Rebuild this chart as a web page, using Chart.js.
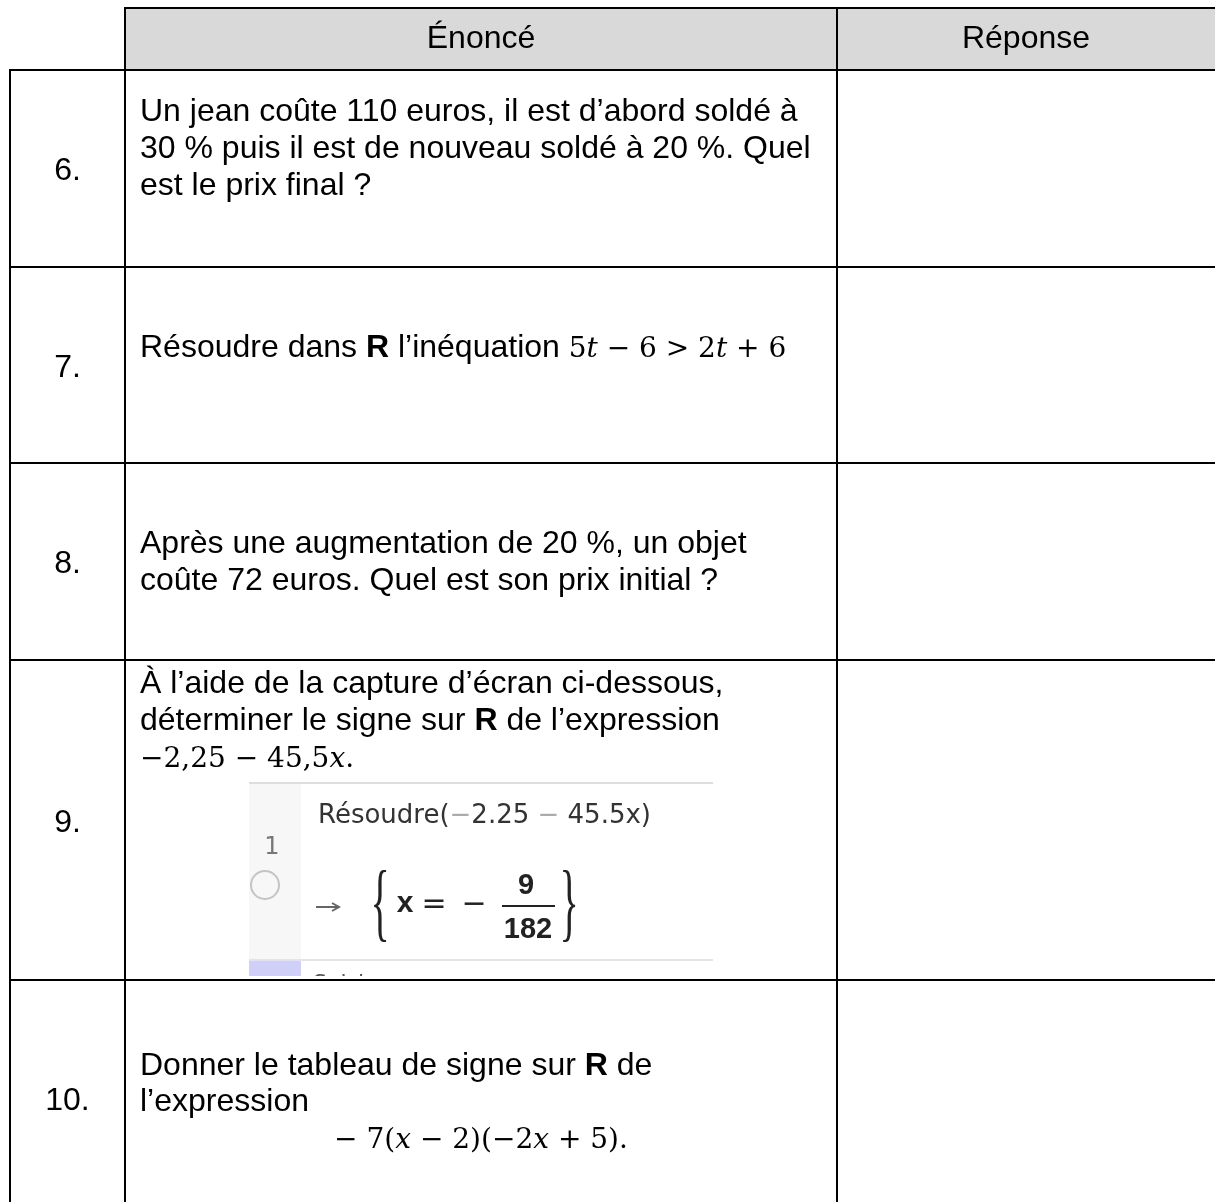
<!DOCTYPE html>
<html>
<head>
<meta charset="utf-8">
<script src="https://cdn.jsdelivr.net/npm/chart.js@4.4.1/dist/chart.umd.min.js"></script>
<style>
html,body{margin:0;padding:0;background:#fff;}
#wrap{width:1215px;height:1202px;position:relative;}
</style>
</head>
<body>
<div id="wrap"><canvas id="c"></canvas></div>
<script>
// ---------- DATA (table content) ----------
const headers = ["Énoncé", "Réponse"];
const questionNumbers = ["6.", "7.", "8.", "9.", "10."];
// each statement = list of lines; each line = list of [style, text] runs
// styles: t = text, b = bold text, m = math upright, mi = math italic
const statement6 = [
  [["t", "Un jean coûte 110 euros, il est d’abord soldé à"]],
  [["t", "30 % puis il est de nouveau soldé à 20 %. Quel"]],
  [["t", "est le prix final ?"]]
];
const statement7 = [
  [["t", "Résoudre dans "], ["b", "R"], ["t", " l’inéquation "], ["m", "5"], ["mi", "t"], ["m", " − 6 > 2"], ["mi", "t"], ["m", " + 6"]]
];
const statement8 = [
  [["t", "Après une augmentation de 20 %, un objet"]],
  [["t", "coûte 72 euros. Quel est son prix initial ?"]]
];
const statement9 = [
  [["t", "À l’aide de la capture d’écran ci-dessous,"]],
  [["t", "déterminer le signe sur "], ["b", "R"], ["t", " de l’expression"]],
  [["m", "−2,25 − 45,5"], ["mi", "x"], ["m", "."]]
];
const statement10 = [
  [["t", "Donner le tableau de signe sur "], ["b", "R"], ["t", " de"]],
  [["t", "l’expression"]],
  [["m", "− 7("], ["mi", "x"], ["m", " − 2)(−2"], ["mi", "x"], ["m", " + 5)."]]
];
const statements = [statement6, statement7, statement8, statement9, statement10];
// screenshot (GeoGebra) content in question 9
const geoCommand = [["Résoudre(", "#333"], ["−", "#aaa"], ["2.25 ", "#333"], ["−", "#aaa"], [" 45.5x)", "#333"]];
const geoLineNumber = "1";
const geoNumerator = "9";
const geoDenominator = "182";

// ---------- LAYOUT (positions / styles) ----------
const X_MAX = 1215, Y_MAX = 1202;
const COL_EDGES = [10, 125, 837, 1215];
const ROW_EDGES = [8, 70, 267, 463, 660, 980];
const HEADER_BASELINE = 48;
const NUM_BASELINES = [180, 377, 573, 832, 1110];
const LINE_BASELINES = [[121, 158, 195], [357], [553, 590], [693, 730, 767], [1075, 1111, 1148]];
const CENTERED_LINES = {"4-2": true};
const TEXT_LEFT = 140;
const FS = 32, MS = 28;
const GEO = {left: 249, right: 713, top: 783, gutter: 301, sep: 960, bottom: 976};

function fontFor(style) {
  switch (style) {
    case "b": return `bold ${FS}px "Liberation Sans", Arial, sans-serif`;
    case "m": return `${MS}px "DejaVu Serif", serif`;
    case "mi": return `italic ${MS}px "DejaVu Serif", serif`;
    default: return `${FS}px "Liberation Sans", Arial, sans-serif`;
  }
}
function runsWidth(ctx, runs) {
  let w = 0;
  for (const [s, t] of runs) { ctx.font = fontFor(s); w += ctx.measureText(t).width; }
  return w;
}
function drawRuns(ctx, runs, x, y) {
  for (const [s, t] of runs) {
    ctx.font = fontFor(s);
    ctx.fillText(t, x, y);
    x += ctx.measureText(t).width;
  }
}

// table border line datasets built from the edges
const borderSets = [];
ROW_EDGES.forEach((y, i) => {
  const sx = i === 0 ? COL_EDGES[1] - 1 : COL_EDGES[0] - 1;
  borderSets.push({data: [{x: sx, y: y}, {x: X_MAX, y: y}]});
});
COL_EDGES.slice(0, 3).forEach((x, j) => {
  const sy = j === 0 ? ROW_EDGES[1] - 1 : ROW_EDGES[0] - 1;
  borderSets.push({data: [{x: x, y: sy}, {x: x, y: Y_MAX}]});
});
borderSets.forEach(d => Object.assign(d, {
  showLine: true, borderColor: "#000", borderWidth: 2, pointRadius: 0, fill: false, tension: 0
}));

const tablePlugin = {
  id: "tablePlugin",
  beforeDatasetsDraw(chart) {
    const {ctx} = chart, sx = chart.scales.x, sy = chart.scales.y;
    ctx.save();
    ctx.fillStyle = "#d9d9d9";
    const x0 = sx.getPixelForValue(COL_EDGES[1]), x1 = sx.getPixelForValue(X_MAX);
    const y0 = sy.getPixelForValue(ROW_EDGES[0]), y1 = sy.getPixelForValue(ROW_EDGES[1]);
    ctx.fillRect(x0, y0, x1 - x0, y1 - y0);
    ctx.restore();
  },
  afterDatasetsDraw(chart) {
    const {ctx} = chart, sx = chart.scales.x, sy = chart.scales.y;
    const X = v => sx.getPixelForValue(v), Y = v => sy.getPixelForValue(v);
    ctx.save();
    ctx.fillStyle = "#000";
    ctx.textBaseline = "alphabetic";
    // headers
    ctx.font = fontFor("t");
    ctx.textAlign = "center";
    headers.forEach((h, i) => {
      ctx.fillText(h, X((COL_EDGES[i + 1] + COL_EDGES[i + 2]) / 2), Y(HEADER_BASELINE));
    });
    // numbers
    questionNumbers.forEach((n, i) => {
      ctx.font = fontFor("t");
      ctx.fillText(n, X((COL_EDGES[0] + COL_EDGES[1]) / 2), Y(NUM_BASELINES[i]));
    });
    // statements
    ctx.textAlign = "left";
    statements.forEach((lines, i) => {
      lines.forEach((runs, k) => {
        let x = X(TEXT_LEFT);
        if (CENTERED_LINES[i + "-" + k]) {
          const w = runsWidth(ctx, runs);
          x = X((COL_EDGES[1] + COL_EDGES[2]) / 2) - w / 2;
        }
        drawRuns(ctx, runs, x, Y(LINE_BASELINES[i][k]));
      });
    });
    // GeoGebra screenshot
    const gl = X(GEO.left), gr = X(GEO.right), gt = Y(GEO.top), gg = X(GEO.gutter), gs = Y(GEO.sep), gb = Y(GEO.bottom);
    ctx.fillStyle = "#fff";
    ctx.fillRect(gl, gt, gr - gl, gb - gt);
    ctx.fillStyle = "#f7f7f7";
    ctx.fillRect(gl, gt, gg - gl, gs - gt);
    ctx.fillStyle = "#cfcff8";
    ctx.fillRect(gl, gs + 1, gg - gl, gb - gs - 1);
    ctx.strokeStyle = "#dedede"; ctx.lineWidth = 2;
    ctx.beginPath(); ctx.moveTo(gl, gt); ctx.lineTo(gr, gt); ctx.stroke();
    ctx.strokeStyle = "#e4e4e4";
    ctx.beginPath(); ctx.moveTo(gl, gs); ctx.lineTo(gr, gs); ctx.stroke();
    // command text
    ctx.font = `26px "DejaVu Sans", sans-serif`;
    let cx = X(318);
    for (const [t, col] of geoCommand) {
      ctx.fillStyle = col; ctx.fillText(t, cx, Y(823)); cx += ctx.measureText(t).width;
    }
    // line number and circle
    ctx.fillStyle = "#777"; ctx.textAlign = "center";
    ctx.font = `24px "DejaVu Sans", sans-serif`;
    ctx.fillText(geoLineNumber, X(272), Y(854));
    ctx.strokeStyle = "#c4c4c4"; ctx.lineWidth = 2;
    ctx.beginPath(); ctx.arc(X(265), Y(885), 14, 0, Math.PI * 2); ctx.stroke();
    // arrow
    ctx.strokeStyle = "#666"; ctx.lineWidth = 2;
    ctx.beginPath(); ctx.moveTo(X(316), Y(907)); ctx.lineTo(X(338), Y(907)); ctx.stroke();
    ctx.beginPath(); ctx.moveTo(X(332), Y(903)); ctx.lineTo(X(339), Y(907)); ctx.lineTo(X(332), Y(911)); ctx.stroke();
    ctx.textBaseline = "middle";
    // braces
    ctx.fillStyle = "#222";
    ctx.font = `40px "Liberation Serif", serif`;
    [[380, "{"], [569, "}"]].forEach(([bx, ch]) => {
      ctx.save(); ctx.translate(X(bx), Y(907)); ctx.scale(1, 2.15);
      ctx.fillText(ch, 0, 0); ctx.restore();
    });
    // x = -
    ctx.font = `bold 30px "Liberation Sans", sans-serif`;
    ctx.fillText("x", X(405), Y(904));
    ctx.font = `30px "DejaVu Sans", sans-serif`;
    ctx.fillText("=", X(434), Y(905));
    ctx.fillText("−", X(474), Y(905));
    // fraction
    ctx.strokeStyle = "#222"; ctx.lineWidth = 2;
    ctx.beginPath(); ctx.moveTo(X(502), Y(906)); ctx.lineTo(X(555), Y(906)); ctx.stroke();
    ctx.textBaseline = "alphabetic";
    ctx.font = `bold 29px "Liberation Sans", sans-serif`;
    ctx.fillText(geoNumerator, X(526), Y(894));
    ctx.fillText(geoDenominator, X(528), Y(938));
    // cut-off text below the separator
    ctx.save();
    ctx.beginPath(); ctx.rect(gg, gs + 2, gr - gg, gb - gs - 2); ctx.clip();
    ctx.textAlign = "left"; ctx.fillStyle = "#555";
    ctx.font = `22px "DejaVu Sans", sans-serif`;
    ctx.fillText("Saisie", X(313), Y(990));
    ctx.restore();
    ctx.restore();
  }
};

new Chart(document.getElementById("c"), {
  type: "scatter",
  data: {datasets: borderSets},
  options: {
    responsive: true,
    maintainAspectRatio: false,
    animation: false,
    layout: {padding: 0},
    events: [],
    scales: {
      x: {type: "linear", min: 0, max: X_MAX, display: false},
      y: {type: "linear", min: 0, max: Y_MAX, reverse: true, display: false}
    },
    plugins: {legend: {display: false}, tooltip: {enabled: false}, title: {display: false}}
  },
  plugins: [tablePlugin]
});
</script>
</body>
</html>
